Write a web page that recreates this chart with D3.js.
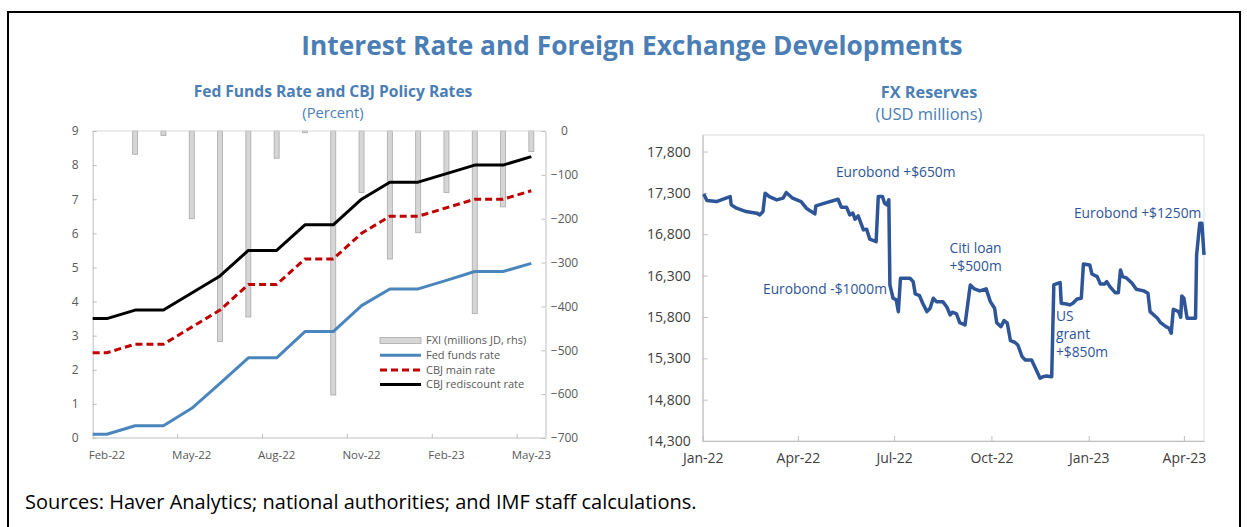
<!DOCTYPE html>
<html>
<head>
<meta charset="utf-8">
<script src="https://cdn.jsdelivr.net/npm/d3@7"></script>
<style>
  body { margin: 0; background: #fff; font-family: "Open Sans", sans-serif; }
</style>
</head>
<body>
<svg id="chart" width="1247" height="527"></svg>
<script>
// ---- data: left panel (monthly) ----
var months = ["Feb-22","Mar-22","Apr-22","May-22","Jun-22","Jul-22","Aug-22","Sep-22",
              "Oct-22","Nov-22","Dec-22","Jan-23","Feb-23","Mar-23","Apr-23","May-23"];
var monthLabels = ["Feb-22","May-22","Aug-22","Nov-22","Feb-23","May-23"];
var fedFunds      = [0.11,0.36,0.36,0.87,1.60,2.35,2.35,3.12,3.12,3.88,4.37,4.37,4.62,4.88,4.88,5.12];
var cbjMain       = [2.50,2.75,2.75,3.25,3.75,4.50,4.50,5.25,5.25,6.00,6.50,6.50,6.75,7.00,7.00,7.25];
var cbjRediscount = [3.50,3.75,3.75,4.25,4.75,5.50,5.50,6.25,6.25,7.00,7.50,7.50,7.75,8.00,8.00,8.25];
var fxi           = [0,-53,-10,-200,-480,-424,-62,-4,-602,-140,-292,-232,-140,-416,-173,-47];
var leftTicks  = [0,1,2,3,4,5,6,7,8,9];
var rightTicks = [-700,-600,-500,-400,-300,-200,-100,0];

// ---- data: right panel (FX reserves, USD millions) ----
var fxDates = ["2022-01-02","2022-01-05","2022-01-14","2022-01-23","2022-01-27","2022-01-28","2022-02-02",
  "2022-02-11","2022-02-21","2022-02-24","2022-02-27","2022-03-01","2022-03-05","2022-03-12","2022-03-18",
  "2022-03-21","2022-03-27","2022-04-04","2022-04-09","2022-04-17","2022-04-18","2022-04-28","2022-05-09",
  "2022-05-12","2022-05-17","2022-05-20","2022-05-23","2022-05-25","2022-05-28","2022-06-02","2022-06-05",
  "2022-06-08","2022-06-14","2022-06-16","2022-06-20","2022-06-22","2022-06-24","2022-06-26","2022-06-27",
  "2022-06-30","2022-07-03","2022-07-05","2022-07-07","2022-07-16","2022-07-19","2022-07-21","2022-07-25",
  "2022-07-28","2022-08-01","2022-08-04","2022-08-07","2022-08-10","2022-08-16","2022-08-20","2022-08-23",
  "2022-08-25","2022-08-29","2022-09-01","2022-09-06","2022-09-11","2022-09-15","2022-09-20","2022-09-26",
  "2022-09-30","2022-10-04","2022-10-06","2022-10-10","2022-10-13","2022-10-16","2022-10-19","2022-10-23",
  "2022-10-26","2022-10-30","2022-11-02","2022-11-08","2022-11-11","2022-11-16","2022-11-19","2022-11-22",
  "2022-11-27","2022-11-29","2022-12-03","2022-12-05","2022-12-06","2022-12-11","2022-12-14","2022-12-17",
  "2022-12-21","2022-12-25","2022-12-27","2023-01-02","2023-01-04","2023-01-09","2023-01-12","2023-01-16",
  "2023-01-18","2023-01-21","2023-01-26","2023-01-29","2023-01-31","2023-02-02","2023-02-06","2023-02-11",
  "2023-02-15","2023-02-22","2023-02-26","2023-02-28","2023-03-07","2023-03-10","2023-03-15","2023-03-18",
  "2023-03-20","2023-03-22","2023-03-27","2023-03-29","2023-03-30","2023-04-01","2023-04-04","2023-04-12",
  "2023-04-13","2023-04-16","2023-04-18","2023-04-20"];
var fxValues = [17288,17207,17195,17236,17255,17155,17115,
  17074,17055,17034,17074,17297,17255,17215,17236,
  17304,17236,17195,17115,17046,17143,17183,17223,
  17127,17127,17034,17055,16982,17022,16853,16861,
  16740,16711,17255,17255,17175,17155,17215,16187,
  16026,16006,15864,16268,16268,16227,16078,16058,
  15966,15864,15905,16026,15985,15985,15917,15824,
  15857,15836,15731,15703,16187,16139,16115,16139,
  15985,15905,15731,15683,15755,15724,15513,15494,
  15461,15320,15280,15280,15199,15059,15078,15086,
  15078,16187,16208,16215,15966,15957,15945,15966,
  16018,16026,16441,16429,16320,16288,16199,16199,
  16227,16167,16094,16094,16369,16288,16268,16208,
  16135,16115,16087,15864,15784,15731,15683,15663,
  15603,15893,15864,15796,16054,16026,15784,15784,
  16550,16934,16934,16550];
var fxTicks = [14300,14800,15300,15800,16300,16800,17300,17800];
var fxTickDates = ["2022-01-01","2022-04-01","2022-07-01","2022-10-01","2023-01-01","2023-04-01"];
var notes = [
  {lines: ["Eurobond +$650m"], date: "2022-05-07", value: 17554, anchor: "start"},
  {lines: ["Eurobond -$1000m"], date: "2022-02-27", value: 16139, anchor: "start"},
  {lines: ["Citi loan", "+$500m"], date: "2022-09-16", value: 16635, anchor: "middle"},
  {lines: ["Eurobond +$1250m"], date: "2022-12-18", value: 17058, anchor: "start"},
  {lines: ["US", "grant", "+$850m"], date: "2022-12-01", value: 15812, anchor: "start"}
];

var parseDate = d3.timeParse("%Y-%m-%d");
var svg = d3.select("#chart");
var titleBlue = "#4a7eb5";

// outer frame
svg.append("rect")
    .attr("x", 8).attr("y", 12).attr("width", 1232).attr("height", 540)
    .attr("fill", "none").attr("stroke", "#000").attr("stroke-width", 2);

svg.append("text")
    .attr("x", 632).attr("y", 55).attr("text-anchor", "middle")
    .attr("font-size", 26.3).attr("font-weight", 700).attr("fill", titleBlue)
    .text("Interest Rate and Foreign Exchange Developments");

svg.append("text")
    .attr("x", 25).attr("y", 509)
    .attr("font-size", 20).attr("fill", "#000")
    .text("Sources: Haver Analytics; national authorities; and IMF staff calculations.");

// ================= left panel =================
var L = {x0: 92.7, x1: 545.5, y0: 131, y1: 438};

svg.append("text").attr("x", 333).attr("y", 97).attr("text-anchor", "middle")
    .attr("font-size", 15.6).attr("font-weight", 700).attr("fill", titleBlue)
    .text("Fed Funds Rate and CBJ Policy Rates");
svg.append("text").attr("x", 333).attr("y", 118).attr("text-anchor", "middle")
    .attr("font-size", 14.7).attr("fill", titleBlue)
    .text("(Percent)");

var x = d3.scaleBand().domain(months).range([L.x0, L.x1]).padding(0);
var y = d3.scaleLinear().domain([0, 9]).range([L.y1, L.y0]);
var y2 = d3.scaleLinear().domain([-700, 0]).range([L.y1, L.y0]);
var bw = x.bandwidth();

// FXI bars hanging from 0
svg.append("g").selectAll("rect")
    .data(months.filter(function(m, i) { return fxi[i] < 0; }))
  .enter().append("rect")
    .attr("x", function(m) { return x(m) + bw / 2 - 2.5; })
    .attr("y", y2(0))
    .attr("width", 5)
    .attr("height", function(m) { return y2(fxi[months.indexOf(m)]) - y2(0); })
    .attr("fill", "#d6d6d6")
    .attr("stroke", "#a8a8a8")
    .attr("stroke-width", 0.8);

// axes
var axisColor = "#bfbfbf";
svg.append("line").attr("x1", L.x0).attr("x2", L.x1).attr("y1", L.y0).attr("y2", L.y0)
    .attr("stroke", "#d9d9d9");

var gl = svg.append("g").attr("transform", "translate(" + L.x0 + ",0)")
    .call(d3.axisLeft(y).tickValues(leftTicks).tickFormat(d3.format("d"))
      .tickSizeInner(-4).tickSizeOuter(0).tickPadding(14));
var gr = svg.append("g").attr("transform", "translate(" + L.x1 + ",0)")
    .call(d3.axisRight(y2).tickValues(rightTicks).tickFormat(d3.format("d"))
      .tickSizeInner(-4).tickSizeOuter(0).tickPadding(19));
gr.selectAll("text").attr("text-anchor", "middle");
[gl, gr].forEach(function(g) {
  g.select(".domain").attr("stroke", axisColor);
  g.selectAll("line").attr("stroke", axisColor);
  g.selectAll("text").attr("fill", "#595959").attr("font-size", 12)
    .attr("font-family", "Open Sans, sans-serif");
});

svg.append("line").attr("x1", L.x0).attr("x2", L.x1).attr("y1", L.y1).attr("y2", L.y1)
    .attr("stroke", axisColor);
svg.append("g").selectAll("line")
    .data(monthLabels.slice(1))
  .enter().append("line")
    .attr("x1", function(m) { return x(m); }).attr("x2", function(m) { return x(m); })
    .attr("y1", L.y1).attr("y2", L.y1 - 4)
    .attr("stroke", axisColor);
svg.append("g").selectAll("text")
    .data(monthLabels)
  .enter().append("text")
    .attr("x", function(m) { return x(m) + bw / 2; })
    .attr("y", L.y1 + 21)
    .attr("text-anchor", "middle")
    .attr("font-size", 11.5).attr("fill", "#595959")
    .text(function(m) { return m; });

// rate lines (start flat from the axis)
function rateLine(vals) {
  var pts = [[x.range()[0], y(vals[0])]];
  vals.forEach(function(v, i) { pts.push([x(months[i]) + bw / 2, y(v)]); });
  return d3.line()(pts);
}
var series = [
  {name: "Fed funds rate", vals: fedFunds, color: "#4a86bd", dash: null},
  {name: "CBJ main rate", vals: cbjMain, color: "#c00000", dash: "7,4"},
  {name: "CBJ rediscount rate", vals: cbjRediscount, color: "#000000", dash: null}
];
series.forEach(function(s) {
  svg.append("path")
      .attr("d", rateLine(s.vals))
      .attr("fill", "none")
      .attr("stroke", s.color)
      .attr("stroke-width", 3)
      .attr("stroke-dasharray", s.dash)
      .attr("stroke-linejoin", "round");
});

// legend
var lg = svg.append("g").attr("transform", "translate(380,340.5)");
lg.append("rect").attr("x", 0).attr("y", -3).attr("width", 41).attr("height", 6)
    .attr("fill", "#d6d6d6").attr("stroke", "#a8a8a8").attr("stroke-width", 0.8);
lg.append("text").attr("x", 46).attr("y", 0).attr("dy", "0.35em")
    .attr("font-size", 11).attr("fill", "#595959").text("FXI (millions JD, rhs)");
series.forEach(function(s, i) {
  var yy = 14.7 * (i + 1);
  lg.append("line").attr("x1", 0).attr("x2", 41).attr("y1", yy).attr("y2", yy)
      .attr("stroke", s.color).attr("stroke-width", 3).attr("stroke-dasharray", s.dash);
  lg.append("text").attr("x", 46).attr("y", yy).attr("dy", "0.35em")
      .attr("font-size", 11).attr("fill", "#595959").text(s.name);
});

// ================= right panel =================
var R = {x0: 702.7, x1: 1204, y0: 135, y1: 441};

svg.append("text").attr("x", 929).attr("y", 98).attr("text-anchor", "middle")
    .attr("font-size", 16.3).attr("font-weight", 700).attr("fill", titleBlue)
    .text("FX Reserves");
svg.append("text").attr("x", 929).attr("y", 120).attr("text-anchor", "middle")
    .attr("font-size", 16.5).attr("fill", titleBlue)
    .text("(USD millions)");

var xt = d3.scaleTime().domain([parseDate("2022-01-01"), parseDate("2023-04-20")]).range([R.x0, R.x1]);
var yr = d3.scaleLinear().domain([14300, 18000]).range([R.y1, R.y0]);

svg.append("rect").attr("x", R.x0).attr("y", R.y0)
    .attr("width", R.x1 - R.x0).attr("height", R.y1 - R.y0)
    .attr("fill", "none").attr("stroke", "#d9d9d9");

var gyr = svg.append("g").attr("transform", "translate(" + R.x0 + ",0)")
    .call(d3.axisLeft(yr).tickValues(fxTicks).tickFormat(d3.format(","))
      .tickSizeInner(-5).tickSizeOuter(0).tickPadding(12));
var gxr = svg.append("g").attr("transform", "translate(0," + R.y1 + ")")
    .call(d3.axisBottom(xt).tickValues(fxTickDates.map(parseDate))
      .tickFormat(d3.timeFormat("%b-%y")).tickSizeInner(-5).tickSizeOuter(0).tickPadding(12));
[gyr, gxr].forEach(function(g) {
  g.select(".domain").attr("stroke", axisColor);
  g.selectAll("line").attr("stroke", axisColor);
  g.selectAll("text").attr("fill", "#404040").attr("font-size", 14)
    .attr("font-family", "Open Sans, sans-serif");
});

var fxLine = d3.line()
    .x(function(d, i) { return xt(parseDate(fxDates[i])); })
    .y(function(d) { return yr(d); });
svg.append("path")
    .attr("d", fxLine(fxValues))
    .attr("fill", "none")
    .attr("stroke", "#2e5597")
    .attr("stroke-width", 3.5)
    .attr("stroke-linejoin", "round");

notes.forEach(function(n) {
  var t = svg.append("text")
      .attr("x", xt(parseDate(n.date)))
      .attr("y", yr(n.value))
      .attr("text-anchor", n.anchor)
      .attr("font-size", 13.8).attr("fill", "#2e5597");
  n.lines.forEach(function(s, i) {
    t.append("tspan").attr("x", xt(parseDate(n.date)))
        .attr("dy", i === 0 ? "0.35em" : 18).text(s);
  });
});
</script>
</body>
</html>
